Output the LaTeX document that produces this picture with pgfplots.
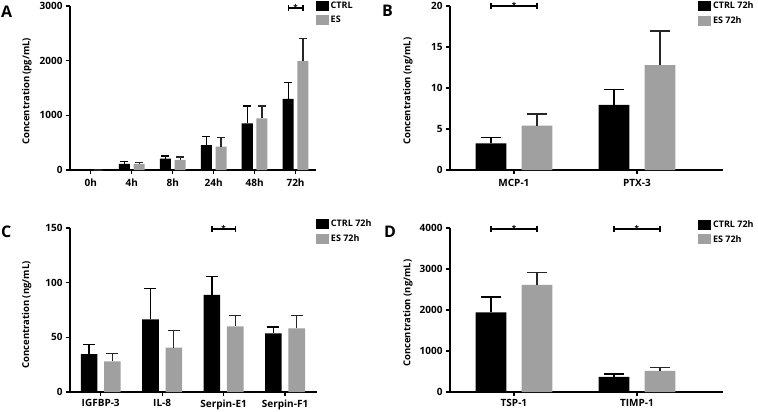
\documentclass[border=0pt]{standalone}
\usepackage{pgfplots}
\pgfplotsset{compat=1.18}
\usepackage{pgfplotstable}
\usepackage{fontspec}
\setmainfont{Open Sans}
\definecolor{esgray}{HTML}{A0A0A0}
\newcommand{\tickfont}{\bfseries\fontsize{10}{11}\selectfont}
\tikzset{sigstar/.style={font=\bfseries\fontsize{8}{8}\selectfont, anchor=base, inner sep=0pt, yshift=-2.2pt}}
\pgfplotsset{
  gp/.style={
    scale only axis,
    axis lines*=left,
    axis line style={line width=1.2pt},
    every tick/.style={line width=1.2pt, black},
    tick align=outside,
    major tick length=4pt,
    ymin=0,
    clip=false,
    ybar,
    tick label style={font=\tickfont},
    xticklabel style={yshift=-1.5pt},
    /pgf/number format/assume math mode=true,
    /pgf/number format/1000 sep={},
    label style={font=\bfseries\fontsize{9.5}{10}\selectfont},
    legend style={draw=none, fill=none, font=\bfseries\fontsize{9}{10}\selectfont,
      legend cell align=left, row sep=2.5pt, inner sep=0pt, anchor=north west,
      nodes={inner sep=2pt}},
    legend image code/.code={\fill[##1] (0pt,-5pt) rectangle (13pt,5pt);},
  },
  ctrl/.style={fill=black, draw=none,
    error bars/y dir=plus, error bars/y explicit,
    error bars/error mark=-,
    error bars/error bar style={line width=1.2pt, draw=black},
    error bars/error mark options={rotate=90, line width=1.2pt, mark size=#1, draw=black}},
  es/.style={fill=esgray, draw=none,
    error bars/y dir=plus, error bars/y explicit,
    error bars/error mark=-,
    error bars/error bar style={line width=1.2pt, draw=black!85},
    error bars/error mark options={rotate=90, line width=1.2pt, mark size=#1, draw=black!85}},
}
\pgfplotstableread{
x ctrl ctrlerr es eserr
0 0 0 0 0
1 110 42 110 24
2 207 49 183 55
3 457 153 427 171
4 854 317 945 226
5 1299 305 1994 415
}\dataA
\pgfplotstableread{
x ctrl ctrlerr es eserr
0 3.25 0.73 5.4 1.43
1 7.93 1.91 12.8 4.15
}\dataB
\pgfplotstableread{
x ctrl ctrlerr es eserr
0 34.6 8.9 27.9 7.3
1 66.4 28.5 40.7 15.3
2 88.8 17.1 60.0 10.1
3 53.6 5.8 58.2 11.6
}\dataC
\pgfplotstableread{
x ctrl ctrlerr es eserr
0 1943 375 2612 294
1 367 74 514 82
}\dataD
\begin{document}
\begin{tikzpicture}[x=1pt,y=1pt]
\useasboundingbox (0,0) rectangle (758,-412);
% Panel A
\begin{axis}[gp, at={(70pt,-170pt)}, anchor=south west,
  width=246pt, height=164pt, xmin=-0.51, xmax=5.5, ymax=3000,
  xtick={0,...,5}, xticklabels={0h,4h,8h,24h,48h,72h},
  ytick={0,1000,2000,3000}, bar width=0.27,
  ylabel={Concentration (pg/mL)},
  ylabel style={at={(axis description cs:-0.175,0.48)}, anchor=center},
  legend style={at={(axis description cs:0.998,1.04)}}]
\addplot[ctrl=4pt, bar shift=-0.18] table[x=x, y=ctrl, y error=ctrlerr]{\dataA};
\addplot[es=4pt, bar shift=0.18] table[x=x, y=es, y error=eserr]{\dataA};
\legend{CTRL,ES}
\draw[line width=1.2pt] (axis cs:4.82,2963) -- (axis cs:5.18,2963)
  (axis cs:4.82,2910) -- (axis cs:4.82,3016) (axis cs:5.18,2910) -- (axis cs:5.18,3016);
\node[sigstar] at (axis cs:5,2963) {*};
\end{axis}
% Panel B
\begin{axis}[gp, at={(450pt,-170pt)}, anchor=south west,
  width=273pt, height=164pt, xmin=-0.52, xmax=1.7, ymax=20,
  xtick={0,1}, xticklabels={MCP-1,PTX-3},
  ytick={0,5,10,15,20}, bar width=0.25,
  ylabel={Concentration (ng/mL)},
  ylabel style={at={(axis description cs:-0.154,0.48)}, anchor=center},
  legend style={at={(axis description cs:0.908,1.04)}}]
\addplot[ctrl=10pt, bar shift=-0.187] table[x=x, y=ctrl, y error=ctrlerr]{\dataB};
\addplot[es=10pt, bar shift=0.187] table[x=x, y=es, y error=eserr]{\dataB};
\legend{CTRL 72h,ES 72h}
\draw[line width=1.2pt] (axis cs:-0.187,20) -- (axis cs:0.187,20)
  (axis cs:-0.187,19.65) -- (axis cs:-0.187,20.35) (axis cs:0.187,19.65) -- (axis cs:0.187,20.35);
\node[sigstar] at (axis cs:0,20) {*};
\end{axis}
% Panel C
\begin{axis}[gp, at={(70pt,-392pt)}, anchor=south west,
  width=247pt, height=164pt, xmin=-0.5, xmax=3.52, ymax=150,
  xtick={0,...,3}, xticklabels={IGFBP-3,IL-8,Serpin-E1,Serpin-F1},
  xticklabel style={yshift=1.5pt},
  ytick={0,50,100,150}, bar width=0.27,
  ylabel={Concentration (ng/mL)},
  ylabel style={at={(axis description cs:-0.175,0.47)}, anchor=center},
  legend style={at={(axis description cs:0.995,1.065)}}]
\addplot[ctrl=6pt, bar shift=-0.19] table[x=x, y=ctrl, y error=ctrlerr]{\dataC};
\addplot[es=6pt, bar shift=0.19] table[x=x, y=es, y error=eserr]{\dataC};
\legend{CTRL 72h,ES 72h}
\draw[line width=1.2pt] (axis cs:1.81,149) -- (axis cs:2.19,149)
  (axis cs:1.81,146.4) -- (axis cs:1.81,151.6) (axis cs:2.19,146.4) -- (axis cs:2.19,151.6);
\node[sigstar] at (axis cs:2,149) {*};
\end{axis}
% Panel D
\begin{axis}[gp, at={(450pt,-392pt)}, anchor=south west,
  width=273pt, height=164pt, xmin=-0.52, xmax=1.7, ymax=4000,
  xtick={0,1}, xticklabels={TSP-1,TIMP-1},
  xticklabel style={yshift=1.5pt},
  ytick={0,1000,2000,3000,4000}, bar width=0.25,
  ylabel={Concentration (ng/mL)},
  ylabel style={at={(axis description cs:-0.154,0.48)}, anchor=center},
  legend style={at={(axis description cs:0.908,1.06)}}]
\addplot[ctrl=10pt, bar shift=-0.187] table[x=x, y=ctrl, y error=ctrlerr]{\dataD};
\addplot[es=10pt, bar shift=0.187] table[x=x, y=es, y error=eserr]{\dataD};
\legend{CTRL 72h,ES 72h}
\draw[line width=1.2pt] (axis cs:-0.187,3976) -- (axis cs:0.187,3976)
  (axis cs:-0.187,3906) -- (axis cs:-0.187,4046) (axis cs:0.187,3906) -- (axis cs:0.187,4046)
  (axis cs:0.813,3976) -- (axis cs:1.187,3976)
  (axis cs:0.813,3906) -- (axis cs:0.813,4046) (axis cs:1.187,3906) -- (axis cs:1.187,4046);
\node[sigstar] at (axis cs:0,3976) {*};
\node[sigstar] at (axis cs:1,3976) {*};
\end{axis}
% Panel letters
\node[font=\bfseries\fontsize{16}{16}\selectfont, anchor=base west, inner sep=0pt] at (1,-18) {A};
\node[font=\bfseries\fontsize{16}{16}\selectfont, anchor=base west, inner sep=0pt] at (382,-17) {B};
\node[font=\bfseries\fontsize{16}{16}\selectfont, anchor=base west, inner sep=0pt] at (1,-237) {C};
\node[font=\bfseries\fontsize{16}{16}\selectfont, anchor=base west, inner sep=0pt] at (384,-237) {D};
\end{tikzpicture}
\end{document}
